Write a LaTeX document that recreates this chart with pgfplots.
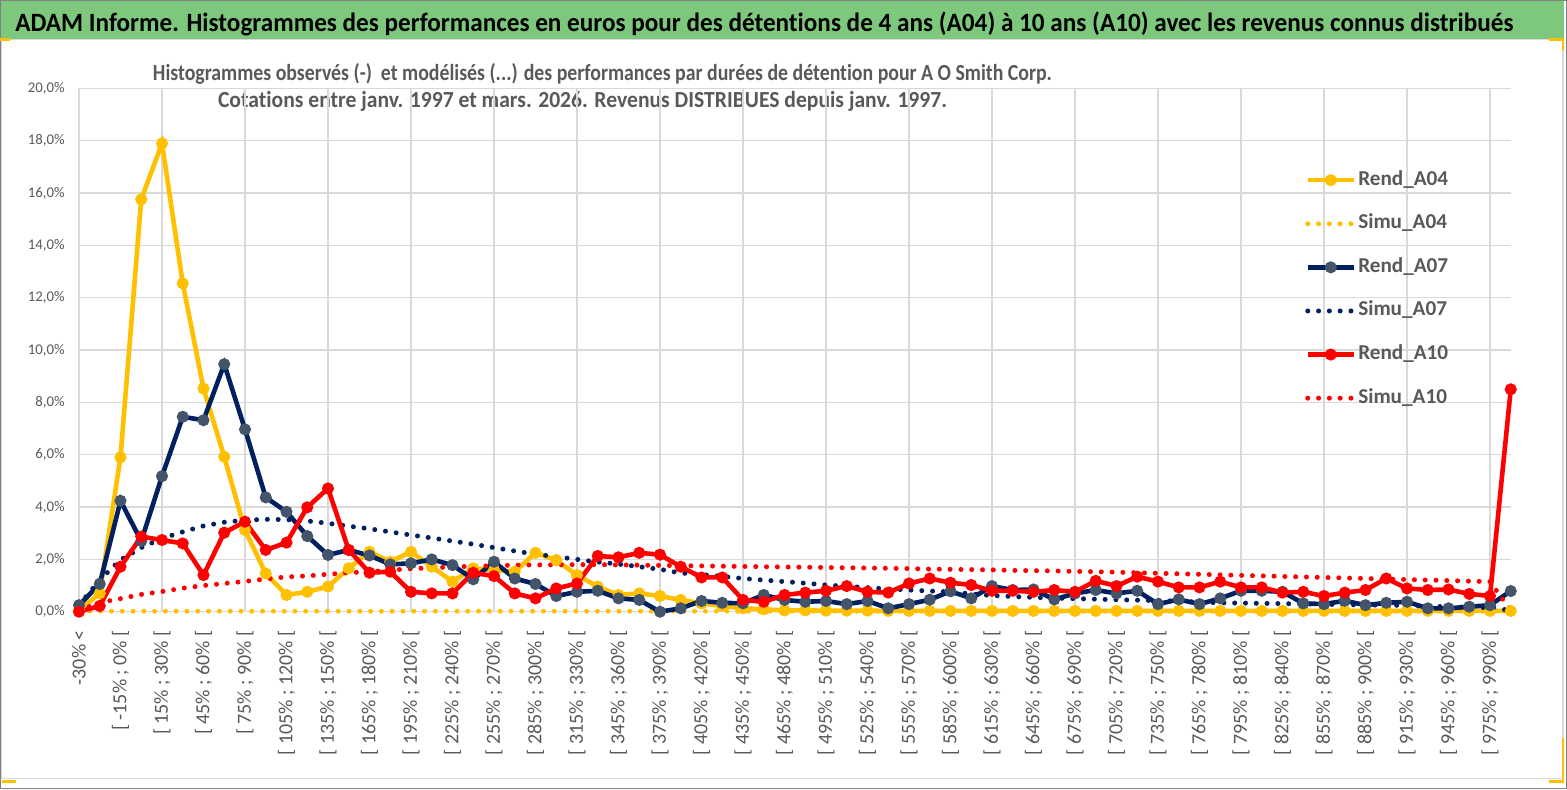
\documentclass[border=0pt]{standalone}
\usepackage{fontspec}
\setmainfont{Carlito}[Ligatures={NoCommon}]
\usepackage{graphicx}
\usepackage{pgfplots}
\pgfplotsset{compat=1.18}
\usepackage{pgfplotstable}

\definecolor{yel}{RGB}{255,192,0}
\definecolor{nav}{RGB}{0,32,96}
\definecolor{slate}{RGB}{68,84,106}
\definecolor{myred}{RGB}{255,0,0}
\definecolor{txtgray}{RGB}{89,89,89}
\definecolor{gridgray}{RGB}{217,217,217}
\definecolor{titlegreen}{RGB}{125,200,125}
\definecolor{framegray}{RGB}{128,128,128}

\pgfplotstableread{
x r04 s04 r07 s07 r10 s10
0 0.05 0.02 0.25 0.25 0.00 0.05
1 0.70 0.02 1.06 1.22 0.22 0.35
2 5.90 0.02 4.24 1.98 1.72 0.50
3 15.76 0.02 2.70 2.45 2.87 0.66
4 17.90 0.02 5.18 2.80 2.74 0.77
5 12.55 0.02 7.45 3.05 2.61 0.90
6 8.53 0.02 7.32 3.28 1.40 1.00
7 5.92 0.02 9.46 3.42 3.02 1.08
8 3.12 0.02 6.97 3.50 3.44 1.16
9 1.46 0.02 4.37 3.53 2.36 1.25
10 0.64 0.02 3.82 3.52 2.64 1.33
11 0.76 0.02 2.89 3.47 3.99 1.37
12 0.96 0.02 2.17 3.38 4.71 1.43
13 1.66 0.02 2.36 3.27 2.36 1.49
14 2.29 0.02 2.15 3.17 1.49 1.53
15 1.91 0.02 1.81 3.05 1.53 1.59
16 2.29 0.02 1.85 2.93 0.76 1.64
17 1.72 0.02 2.00 2.82 0.70 1.68
18 1.15 0.02 1.78 2.70 0.70 1.71
19 1.66 0.02 1.24 2.58 1.49 1.74
20 1.59 0.02 1.91 2.45 1.36 1.76
21 1.53 0.02 1.27 2.32 0.70 1.78
22 2.25 0.02 1.06 2.20 0.51 1.79
23 1.97 0.02 0.60 2.10 0.89 1.79
24 1.40 0.02 0.76 2.00 1.08 1.80
25 0.96 0.02 0.80 1.90 2.13 1.80
26 0.64 0.02 0.51 1.82 2.08 1.79
27 0.70 0.02 0.45 1.72 2.25 1.78
28 0.60 0.02 0.00 1.62 2.18 1.77
29 0.45 0.02 0.13 1.48 1.72 1.76
30 0.32 0.02 0.41 1.42 1.31 1.75
31 0.22 0.02 0.34 1.35 1.31 1.74
32 0.13 0.02 0.32 1.27 0.45 1.73
33 0.09 0.02 0.64 1.21 0.38 1.72
34 0.05 0.02 0.45 1.15 0.64 1.71
35 0.05 0.02 0.38 1.09 0.73 1.70
36 0.04 0.02 0.41 1.02 0.80 1.69
37 0.04 0.02 0.29 0.97 0.98 1.68
38 0.04 0.02 0.41 0.92 0.76 1.67
39 0.03 0.02 0.13 0.87 0.73 1.66
40 0.03 0.02 0.29 0.83 1.08 1.65
41 0.03 0.02 0.46 0.79 1.27 1.63
42 0.03 0.02 0.78 0.76 1.11 1.62
43 0.03 0.02 0.51 0.68 1.02 1.61
44 0.03 0.02 0.98 0.62 0.80 1.60
45 0.03 0.02 0.83 0.58 0.80 1.58
46 0.03 0.02 0.85 0.55 0.76 1.57
47 0.03 0.02 0.47 0.52 0.83 1.56
48 0.03 0.02 0.70 0.50 0.76 1.54
49 0.03 0.02 0.83 0.48 1.18 1.53
50 0.03 0.02 0.70 0.46 0.98 1.51
51 0.03 0.02 0.80 0.44 1.34 1.49
52 0.03 0.02 0.29 0.43 1.15 1.47
53 0.03 0.02 0.47 0.40 0.93 1.45
54 0.03 0.02 0.29 0.37 0.93 1.43
55 0.03 0.02 0.51 0.34 1.15 1.41
56 0.03 0.02 0.80 0.33 0.93 1.39
57 0.03 0.02 0.80 0.32 0.93 1.37
58 0.03 0.02 0.76 0.31 0.73 1.35
59 0.03 0.02 0.32 0.30 0.76 1.33
60 0.03 0.02 0.29 0.28 0.60 1.31
61 0.03 0.02 0.42 0.27 0.73 1.29
62 0.03 0.02 0.25 0.26 0.83 1.27
63 0.03 0.02 0.34 0.25 1.27 1.25
64 0.03 0.02 0.38 0.24 0.89 1.23
65 0.03 0.02 0.13 0.21 0.83 1.21
66 0.03 0.02 0.13 0.19 0.85 1.19
67 0.03 0.02 0.19 0.17 0.68 1.17
68 0.03 0.02 0.25 0.16 0.60 1.15
69 0.03 0.02 0.79 0.05 8.50 0.05
}\data

\begin{document}
\begin{tikzpicture}
\path[use as bounding box, fill=white] (0,0) rectangle (783.5pt,-394.5pt);
\begin{scope}[x=0.5pt,y=-0.5pt]
  \fill[titlegreen] (1,1) rectangle (1564,38.5);
  \draw[gridgray, line width=0.75pt] (1.5,39.5) rectangle (1563,778.5);
  \draw[framegray, line width=0.5pt] (0.5,0.5) rectangle (1566.5,788.5);
  \fill[yel] (0,37.5) rectangle (10,40.5);
  \fill[yel] (2,779.5) rectangle (16,783);
  \fill[yel] (1549,37.5) rectangle (1564,40.5);
  \fill[yel] (1561.5,37.5) rectangle (1564,50);
  \fill[yel] (1561.5,738) rectangle (1564,783);
  \fill[yel] (1549,779.5) rectangle (1564,783);
  \node[anchor=base west, inner sep=0pt, font=\bfseries\fontsize{13.2}{15}\selectfont] at (15,31.5)
    {\resizebox{749pt}{\height}{ADAM Informe. Histogrammes des performances en euros pour des détentions de 4 ans (A04) à 10 ans (A10) avec les revenus connus distribués}};
  \node[anchor=base, inner sep=0pt, text=txtgray, font=\bfseries\fontsize{11.5}{14}\selectfont] at (602.5,80.5)
    {\resizebox{449.5pt}{\height}{Histogrammes observés (-)\ \ et modélisés (...) des performances par durées de détention pour A O Smith Corp.}};
  \node[anchor=base, inner sep=0pt, text=txtgray, font=\bfseries\fontsize{11.5}{14}\selectfont] at (582.5,107)
    {\resizebox{364.5pt}{\height}{Cotations entre janv. 1997 et mars. 2026. Revenus DISTRIBUES depuis janv. 1997.}};
\end{scope}
\begin{axis}[
  at={(39.5pt,-305.85pt)}, anchor=south west,
  scale only axis, width=715.875pt, height=261.65pt,
  xmin=0, xmax=69, ymin=0, ymax=20,
  clip=false,
  axis line style={draw=none},
  major tick length=0pt,
  tick style={draw=none},
  ytick={0,2,...,20},
  yticklabels={{0,0\%},{2,0\%},{4,0\%},{6,0\%},{8,0\%},{10,0\%},{12,0\%},{14,0\%},{16,0\%},{18,0\%},{20,0\%}},
  ymajorgrids,
  grid style={gridgray, line width=0.75pt},
  xtick={0,2,...,68},
  xticklabels={{-30\% <},{[ -15\% ; 0\% [},{[ 15\% ; 30\% [},{[ 45\% ; 60\% [},{[ 75\% ; 90\% [},{[ 105\% ; 120\% [},{[ 135\% ; 150\% [},{[ 165\% ; 180\% [},{[ 195\% ; 210\% [},{[ 225\% ; 240\% [},{[ 255\% ; 270\% [},{[ 285\% ; 300\% [},{[ 315\% ; 330\% [},{[ 345\% ; 360\% [},{[ 375\% ; 390\% [},{[ 405\% ; 420\% [},{[ 435\% ; 450\% [},{[ 465\% ; 480\% [},{[ 495\% ; 510\% [},{[ 525\% ; 540\% [},{[ 555\% ; 570\% [},{[ 585\% ; 600\% [},{[ 615\% ; 630\% [},{[ 645\% ; 660\% [},{[ 675\% ; 690\% [},{[ 705\% ; 720\% [},{[ 735\% ; 750\% [},{[ 765\% ; 780\% [},{[ 795\% ; 810\% [},{[ 825\% ; 840\% [},{[ 855\% ; 870\% [},{[ 885\% ; 900\% [},{[ 915\% ; 930\% [},{[ 945\% ; 960\% [},{[ 975\% ; 990\% [}},
  extra x ticks={0,4,...,68},
  extra x tick labels={},
  extra x tick style={grid=major, major tick length=0pt},
  xticklabel style={rotate=90, anchor=east, inner sep=0pt, text=txtgray, font=\fontsize{10}{12}\selectfont},
  yticklabel style={inner sep=0pt, text=txtgray, font=\fontsize{7.4}{9}\selectfont},
  xticklabel shift=9pt,
  yticklabel shift=7pt,
  legend style={at={(0.852,0.856)}, anchor=north west, draw=none, fill=none,
    font=\bfseries\fontsize{10.6}{12}\selectfont, text=txtgray,
    row sep=9.8pt, column sep=0pt,
    nodes={inner sep=1pt, text height=7.5pt, text depth=2.5pt}},
  legend cell align=left,
  legend image code/.code={\draw[mark repeat=2,mark phase=2] plot coordinates {(0pt,0pt) (11.5pt,0pt) (23pt,0pt)};},
]
\addplot[yel, line width=2.3pt, mark=*, mark size=1.8pt, mark options={solid, fill=yel, draw=yel}] table[x=x, y=r04] {\data};
\addlegendentry{Rend\_A04}
\addplot[yel, line width=2.5pt, line cap=round, dash pattern=on 0pt off 5.4pt] table[x=x, y=s04] {\data};
\addlegendentry{Simu\_A04}
\addplot[nav, line width=2.3pt, mark=*, mark size=1.8pt, mark options={solid, fill=slate, draw=slate}] table[x=x, y=r07] {\data};
\addlegendentry{Rend\_A07}
\addplot[nav, line width=2.5pt, line cap=round, dash pattern=on 0pt off 5.4pt] table[x=x, y=s07] {\data};
\addlegendentry{Simu\_A07}
\addplot[myred, line width=2.3pt, mark=*, mark size=1.8pt, mark options={solid, fill=myred, draw=myred}] table[x=x, y=r10] {\data};
\addlegendentry{Rend\_A10}
\addplot[myred, line width=2.5pt, line cap=round, dash pattern=on 0pt off 5.4pt] table[x=x, y=s10] {\data};
\addlegendentry{Simu\_A10}
\end{axis}
\end{tikzpicture}
\end{document}
